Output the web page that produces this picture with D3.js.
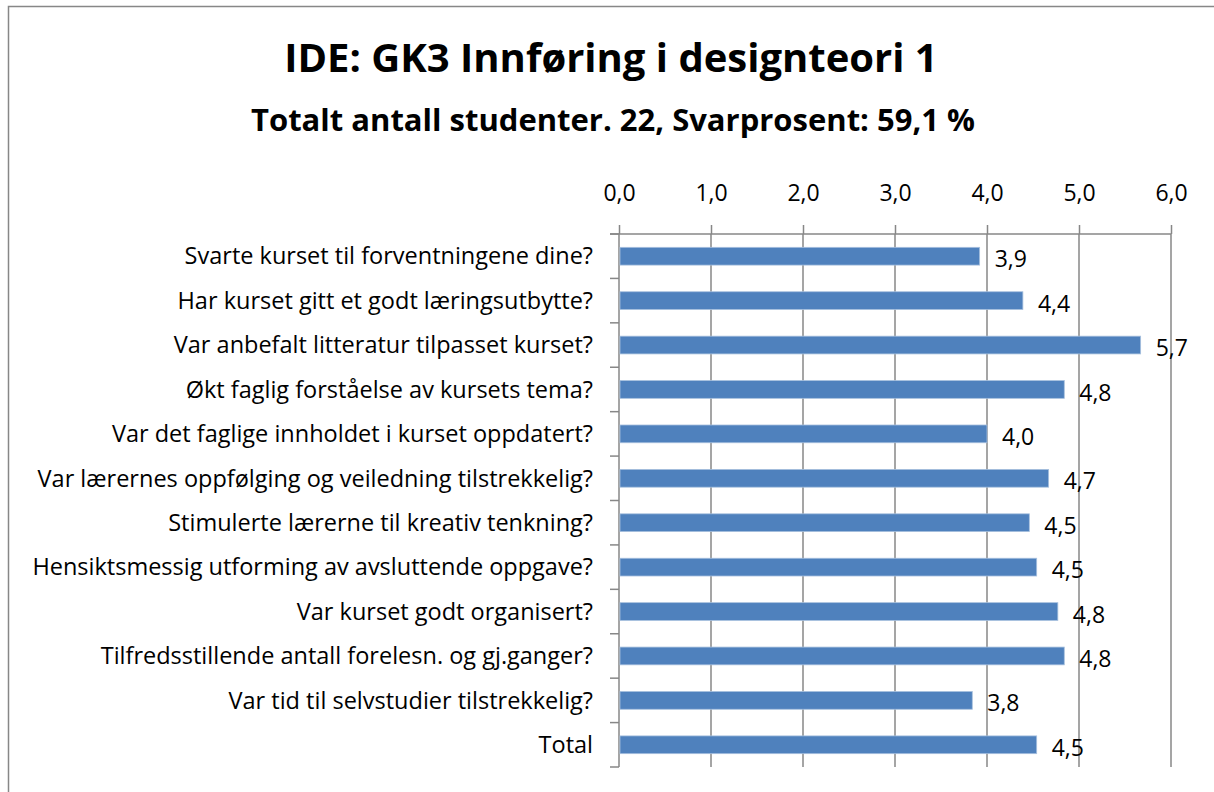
<!DOCTYPE html>
<html>
<head>
<meta charset="utf-8">
<script src="https://cdn.jsdelivr.net/npm/d3@7"></script>
<style>
  body { margin: 0; background: #fff; }
  svg { display: block; }
</style>
</head>
<body>
<div id="chart-container"></div>
<script>
// Data
const questions = [
  "Svarte kurset til forventningene dine?",
  "Har kurset gitt et godt læringsutbytte?",
  "Var anbefalt litteratur tilpasset kurset?",
  "Økt faglig forståelse av kursets tema?",
  "Var det faglige innholdet i kurset oppdatert?",
  "Var lærernes oppfølging og veiledning tilstrekkelig?",
  "Stimulerte lærerne til kreativ tenkning?",
  "Hensiktsmessig utforming av avsluttende oppgave?",
  "Var kurset godt organisert?",
  "Tilfredsstillende antall forelesn. og gj.ganger?",
  "Var tid til selvstudier tilstrekkelig?",
  "Total"
];
const scores = [3.92, 4.39, 5.67, 4.84, 4.0, 4.67, 4.46, 4.54, 4.77, 4.84, 3.84, 4.54];
const xTicks = [0, 1, 2, 3, 4, 5, 6];

const titleText = "IDE: GK3 Innføring i designteori 1";
const subtitleText = "Totalt antall studenter. 22, Svarprosent: 59,1 %";

// Set dimensions and margins for the chart
const margin = { top: 234, right: 43, bottom: 25, left: 619 };
const width = 1214 - margin.left - margin.right;
const height = 792 - margin.top - margin.bottom;

const font = "'Open Sans', Lato, sans-serif";
const gridColor = "#878787";
const barColor = "#4f81bd";

const comma = d => d.toFixed(1).replace(".", ",");

const svgRoot = d3.select("#chart-container")
  .append("svg")
  .attr("width", 1214)
  .attr("height", 792);

// Outer frame (cut off on the right and bottom)
svgRoot.append("rect")
  .attr("x", 8.5)
  .attr("y", 6.5)
  .attr("width", 1300)
  .attr("height", 900)
  .attr("fill", "none")
  .attr("stroke", gridColor)
  .attr("stroke-width", 1.5);

// Titles
svgRoot.append("text")
  .attr("x", 611)
  .attr("y", 72)
  .attr("text-anchor", "middle")
  .style("font-family", font)
  .style("font-size", "40px")
  .style("font-weight", "bold")
  .text(titleText);

svgRoot.append("text")
  .attr("x", 613)
  .attr("y", 131)
  .attr("text-anchor", "middle")
  .style("font-family", font)
  .style("font-size", "31px")
  .style("font-weight", "bold")
  .text(subtitleText);

const svg = svgRoot.append("g")
  .attr("transform", `translate(${margin.left},${margin.top})`);

// Scales
const x = d3.scaleLinear()
  .domain([0, 6])
  .range([0, width]);

const y = d3.scaleBand()
  .domain(questions)
  .range([0, height])
  .paddingInner(0.6)
  .paddingOuter(0.3);

// Vertical gridlines
svg.selectAll(".grid")
  .data(xTicks.slice(1))
  .enter().append("line")
  .attr("class", "grid")
  .attr("x1", d => x(d))
  .attr("x2", d => x(d))
  .attr("y1", 0)
  .attr("y2", height)
  .attr("stroke", gridColor)
  .attr("stroke-width", 1.5);

// Top value axis
const xAxis = svg.append("g")
  .call(d3.axisTop(x).tickValues(xTicks).tickFormat(comma).tickSize(9).tickPadding(24));
xAxis.select(".domain").remove();
xAxis.selectAll("line").attr("stroke", gridColor).attr("stroke-width", 1.5);
xAxis.selectAll("text")
  .attr("fill", "#000")
  .style("font-family", font)
  .style("font-size", "23px");

svg.append("line")
  .attr("x1", -9)
  .attr("x2", width)
  .attr("y1", 0)
  .attr("y2", 0)
  .attr("stroke", gridColor)
  .attr("stroke-width", 1.5);

// Left category axis with ticks between categories
const boundaries = d3.range(questions.length + 1).map(i => i * height / questions.length);

svg.append("line")
  .attr("x1", 0)
  .attr("x2", 0)
  .attr("y1", 0)
  .attr("y2", height)
  .attr("stroke", gridColor)
  .attr("stroke-width", 1.5);

svg.selectAll(".cat-tick")
  .data(boundaries)
  .enter().append("line")
  .attr("class", "cat-tick")
  .attr("x1", -9)
  .attr("x2", 0)
  .attr("y1", d => d)
  .attr("y2", d => d)
  .attr("stroke", gridColor)
  .attr("stroke-width", 1.5);

svg.selectAll(".cat-label")
  .data(questions)
  .enter().append("text")
  .attr("class", "cat-label")
  .attr("x", -26)
  .attr("y", d => y(d) + y.bandwidth() / 2)
  .attr("dy", "0.35em")
  .attr("text-anchor", "end")
  .style("font-family", font)
  .style("font-size", "23.5px")
  .text(d => d);

// Bars
svg.selectAll(".bar")
  .data(questions)
  .enter().append("rect")
  .attr("class", "bar")
  .attr("x", 1)
  .attr("y", d => y(d))
  .attr("width", (d, i) => x(scores[i]) - 1)
  .attr("height", y.bandwidth())
  .attr("fill", barColor)
  .attr("stroke", "#a7c0de")
  .attr("stroke-width", 0.8);

// Value labels
svg.selectAll(".value")
  .data(questions)
  .enter().append("text")
  .attr("class", "value")
  .attr("x", (d, i) => x(scores[i]) + 15)
  .attr("y", d => y(d) + y.bandwidth() / 2 + 3)
  .attr("dy", "0.35em")
  .style("font-family", font)
  .style("font-size", "23px")
  .text((d, i) => comma(scores[i]));
</script>
</body>
</html>
